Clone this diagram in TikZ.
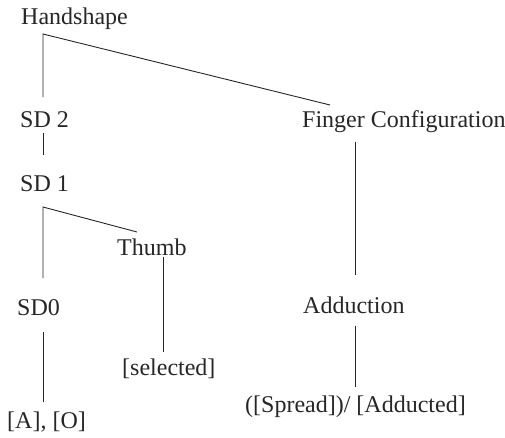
\documentclass[tikz,border=0pt]{standalone}
\usepackage{fontspec}
\setmainfont{Liberation Serif}
\begin{document}
\begin{tikzpicture}[x=1pt,y=-1pt,
  lbl/.style={anchor=base west,inner sep=0pt,font=\fontsize{24}{28}\selectfont,text=black!85},
  edge/.style={draw=black!85,line width=0.9pt}]
\useasboundingbox (0,0) rectangle (505,437);

% labels
\node[lbl] (hs)   at (21,24)   {Handshape};
\node[lbl] (sd2)  at (20,127)  {SD 2};
\node[lbl] (sd1)  at (20,191)  {SD 1};
\node[lbl] (th)   at (117,255) {Thumb};
\node[lbl] (sd0)  at (17,315)  {SD0};
\node[lbl] (sel)  at (122,375) {[selected]};
\node[lbl] (ao)   at (7,428)   {[A], [O]};
\node[lbl] (fc)   at (302,127) {Finger Configuration};
\node[lbl] (ad)   at (303,313) {Adduction};
\node[lbl] (spr)  at (245,412) {([Spread])/ [Adducted]};

% branch points and ends of connectors
\coordinate (hsc)  at (43,34);
\coordinate (sd2t) at (43,97);
\coordinate (sd2b) at (43,133);
\coordinate (sd1t) at (43,155);
\coordinate (fct)  at (330,105);
\coordinate (sd1c) at (43,207);
\coordinate (sd0t) at (43,278);
\coordinate (tht)  at (137,232);
\coordinate (thb)  at (163,257);
\coordinate (selt) at (163,352);
\coordinate (sd0b) at (43,332);
\coordinate (aot)  at (43,402);
\coordinate (fcb)  at (355,142);
\coordinate (adt)  at (355,275);
\coordinate (adb)  at (355,326);
\coordinate (sprt) at (355,387);

% connectors
\draw[edge] (sd2t) -- (hsc) -- (fct);
\draw[edge] (sd2b) -- (sd1t);
\draw[edge] (sd0t) -- (sd1c) -- (tht);
\draw[edge] (thb) -- (selt);
\draw[edge] (sd0b) -- (aot);
\draw[edge] (fcb) -- (adt);
\draw[edge] (adb) -- (sprt);
\end{tikzpicture}
\end{document}
